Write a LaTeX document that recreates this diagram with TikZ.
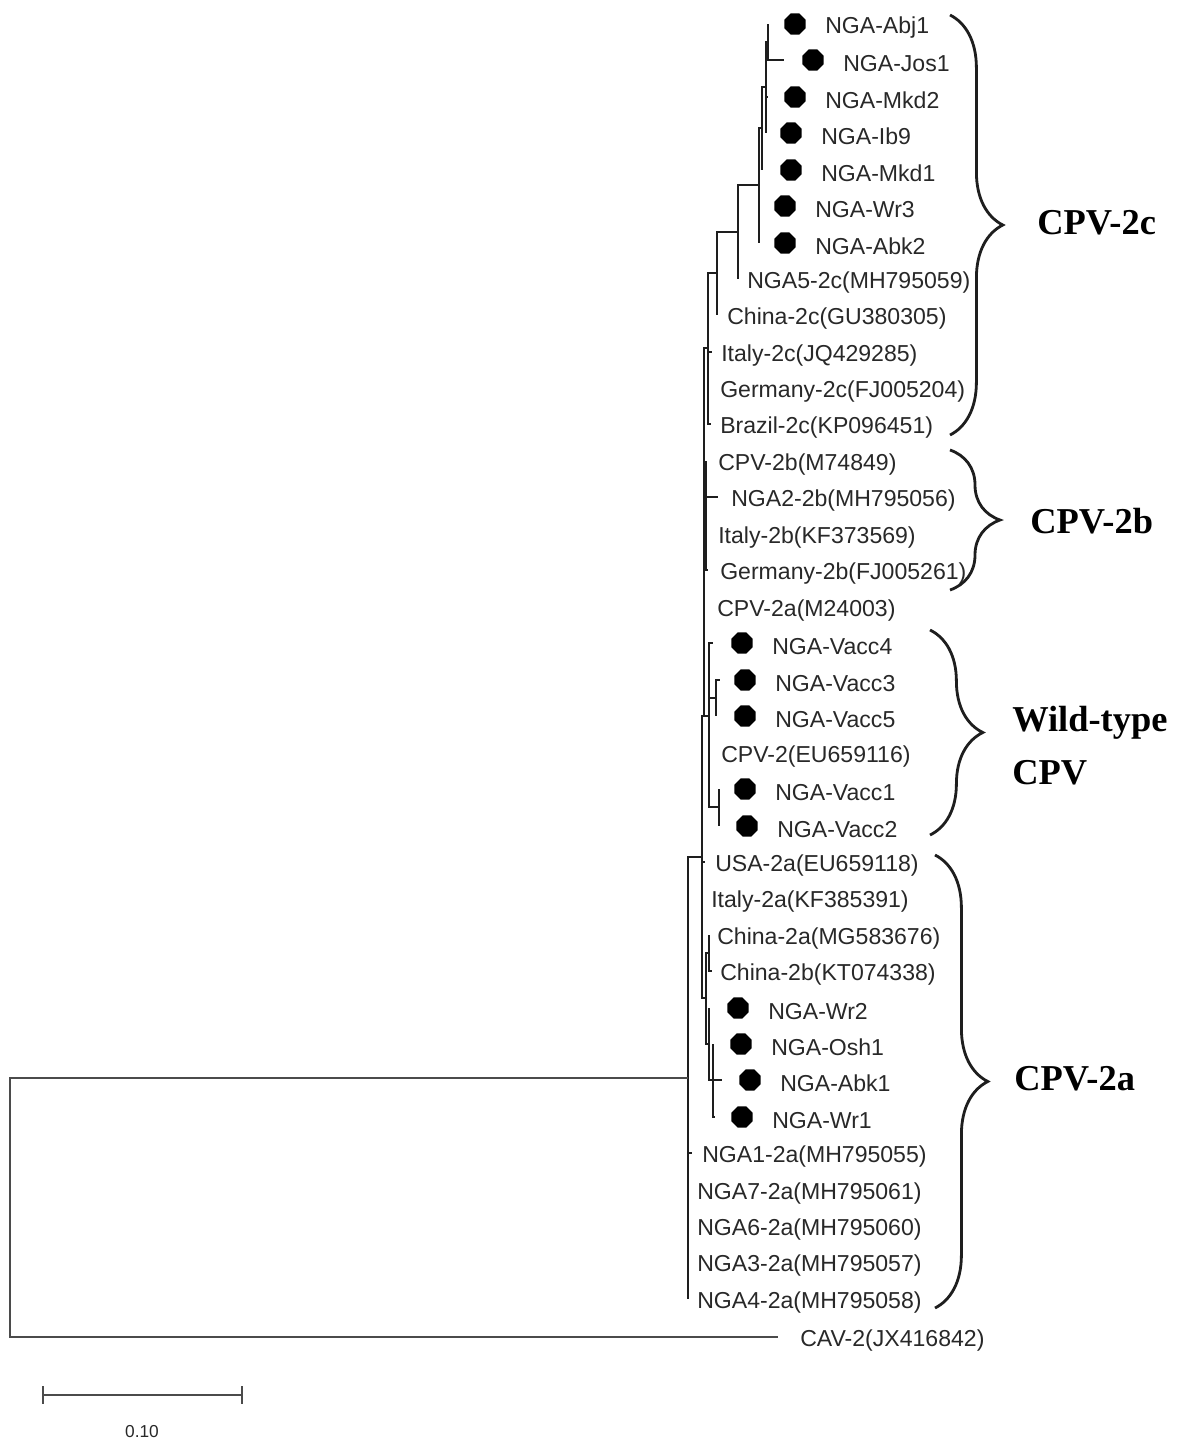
\documentclass[tikz,border=0pt]{standalone}
\usepackage{fontspec}
\setmainfont{Liberation Serif}
\setsansfont{Liberation Sans}
\usepackage{tikz}
\usetikzlibrary{
    positioning,
    shapes.geometric,
    decorations.pathreplacing
}
\definecolor{TreeGray}{RGB}{30,30,30}
\definecolor{LabelGray}{RGB}{40,40,40}
\definecolor{BarGray}{RGB}{75,75,75}
\newcommand{\leaffont}{\sffamily\fontsize{16.4}{19.6}\selectfont}
\newcommand{\cladefont}{\rmfamily\bfseries\fontsize{25.9}{37.6}\selectfont}

\begin{document}
\begin{tikzpicture}[
    x=0.025cm, y=-0.025cm,
    branch/.style={line width=1.25pt, TreeGray},
    leaf/.style={anchor=west, inner sep=0pt, yshift=-0.08cm, font=\leaffont, text=LabelGray},
    dot/.style={regular polygon, regular polygon sides=8, fill=black,
        minimum size=0.57cm, inner sep=0pt},
    clade/.style={decorate, decoration={brace, amplitude=#1},
        line width=2pt, TreeGray},
    cladename/.style={anchor=west, inner sep=0pt, font=\cladefont, align=left}
]
\useasboundingbox (0,0) rectangle (1184,1443);

% Internal nodes
\coordinate (n-a) at (768,42);
\coordinate (n-b) at (766,87);
\coordinate (n-c) at (762,128);
\coordinate (n-d) at (759,185);
\coordinate (n-e) at (738,232);
\coordinate (n-f) at (717,273);
\coordinate (n-g) at (708,348);
\coordinate (n-h) at (706,515);
\coordinate (n-q) at (704,716);
\coordinate (n-w) at (709,716);
\coordinate (n-v1) at (716,698);
\coordinate (n-v4) at (719,807);
\coordinate (n-p) at (702,857);
\coordinate (n-s) at (706,998);
\coordinate (n-s1) at (709,953);
\coordinate (n-s2) at (709,1044);
\coordinate (n-s3) at (713,1080);
\coordinate (n-r) at (688,1078);
\coordinate (n-root) at (10,1207);

% Tips
\coordinate (t-abj1) at (768,24);
\coordinate (t-jos1) at (784,60);
\coordinate (t-mkd2) at (768,97);
\coordinate (t-ib9) at (766,133);
\coordinate (t-mkd1) at (762,170);
\coordinate (t-wr3) at (759,206);
\coordinate (t-abk2) at (759,243);
\coordinate (t-nga5) at (738,279);
\coordinate (t-china2c) at (717,315);
\coordinate (t-italy2c) at (712,352);
\coordinate (t-germany2c) at (708,388);
\coordinate (t-brazil2c) at (711,424);
\coordinate (t-cpv2b) at (706,461);
\coordinate (t-nga2) at (718,497);
\coordinate (t-italy2b) at (706,534);
\coordinate (t-germany2b) at (708,570);
\coordinate (t-cpv2a) at (704,607);
\coordinate (t-vacc4) at (713,643);
\coordinate (t-vacc3) at (720,680);
\coordinate (t-vacc5) at (716,716);
\coordinate (t-cpv2) at (709,753);
\coordinate (t-vacc1) at (719,789);
\coordinate (t-vacc2) at (719,826);
\coordinate (t-usa2a) at (705,862);
\coordinate (t-italy2a) at (702,898);
\coordinate (t-china2a) at (709,935);
\coordinate (t-china2b) at (712,971);
\coordinate (t-wr2) at (709,1008);
\coordinate (t-osh1) at (713,1044);
\coordinate (t-abk1) at (722,1080);
\coordinate (t-wr1) at (715,1117);
\coordinate (t-nga1) at (692,1153);
\coordinate (t-nga7) at (688,1190);
\coordinate (t-nga6) at (688,1226);
\coordinate (t-nga3) at (688,1262);
\coordinate (t-nga4) at (688,1299);
\coordinate (t-cav) at (778,1337);

% Branches
\draw[branch] (n-a) |- (t-abj1) (n-a) |- (t-jos1);
\draw[branch] (n-b) |- (n-a) (n-b) |- (t-mkd2) (n-b) |- (t-ib9);
\draw[branch] (n-c) |- (n-b) (n-c) |- (t-mkd1);
\draw[branch] (n-d) |- (n-c) (n-d) |- (t-wr3) (n-d) |- (t-abk2);
\draw[branch] (n-e) |- (n-d) (n-e) |- (t-nga5);
\draw[branch] (n-f) |- (n-e) (n-f) |- (t-china2c);
\draw[branch] (n-g) |- (n-f) (n-g) |- (t-italy2c) (n-g) |- (t-germany2c) (n-g) |- (t-brazil2c);
\draw[branch] (n-h) |- (t-cpv2b) (n-h) |- (t-nga2) (n-h) |- (t-italy2b) (n-h) |- (t-germany2b);
\draw[branch] (n-q) |- (n-g) (n-q) |- (n-h) (n-q) |- (t-cpv2a) (n-q) -- (n-w);
\draw[branch] (n-v1) |- (t-vacc3) (n-v1) |- (t-vacc5);
\draw[branch] (n-v4) |- (t-vacc1) (n-v4) |- (t-vacc2);
\draw[branch] (n-w) |- (t-vacc4) (n-w) |- (n-v1) (n-w) |- (t-cpv2) (n-w) |- (n-v4);
\draw[branch] (n-s1) |- (t-china2a) (n-s1) |- (t-china2b);
\draw[branch] (n-s3) |- (t-osh1) (n-s3) |- (t-abk1) (n-s3) |- (t-wr1);
\draw[branch] (n-s2) |- (t-wr2) (n-s2) |- (n-s3);
\draw[branch] (n-s) |- (n-s1) (n-s) |- (n-s2);
\draw[branch] (n-p) |- (n-q) (n-p) |- (t-usa2a) (n-p) |- (t-italy2a) (n-p) |- (n-s);
\draw[branch] (n-r) |- (n-p) (n-r) |- (t-nga1) (n-r) |- (t-nga7)
    (n-r) |- (t-nga6) (n-r) |- (t-nga3) (n-r) |- (t-nga4);
\draw[branch, BarGray] (n-root) |- (n-r) (n-root) |- (t-cav);

% Nigerian isolates
\node[dot] (d-abj1) at (795,24) {};
\node[dot] (d-jos1) at (813,60) {};
\node[dot] (d-mkd2) at (795,97) {};
\node[dot] (d-ib9) at (791,133) {};
\node[dot] (d-mkd1) at (791,170) {};
\node[dot] (d-wr3) at (785,206) {};
\node[dot] (d-abk2) at (785,243) {};
\node[dot] (d-vacc4) at (742,643) {};
\node[dot] (d-vacc3) at (745,680) {};
\node[dot] (d-vacc5) at (745,716) {};
\node[dot] (d-vacc1) at (745,789) {};
\node[dot] (d-vacc2) at (747,826) {};
\node[dot] (d-wr2) at (738,1008) {};
\node[dot] (d-osh1) at (741,1044) {};
\node[dot] (d-abk1) at (750,1080) {};
\node[dot] (d-wr1) at (742,1117) {};

% Labels
\node[leaf] (abj1) at (825,24) {NGA-Abj1};
\node[leaf] (jos1) at (843,60) {NGA-Jos1};
\node[leaf] (mkd2) at (825,97) {NGA-Mkd2};
\node[leaf] (ib9) at (821,133) {NGA-Ib9};
\node[leaf] (mkd1) at (821,170) {NGA-Mkd1};
\node[leaf] (wr3) at (815,206) {NGA-Wr3};
\node[leaf] (abk2) at (815,243) {NGA-Abk2};
\node[leaf] (nga5) at (747,279) {NGA5-2c(MH795059)};
\node[leaf] (china2c) at (727,315) {China-2c(GU380305)};
\node[leaf] (italy2c) at (721,352) {Italy-2c(JQ429285)};
\node[leaf] (germany2c) at (720,388) {Germany-2c(FJ005204)};
\node[leaf] (brazil2c) at (720,424) {Brazil-2c(KP096451)};
\node[leaf] (cpv2b) at (718,461) {CPV-2b(M74849)};
\node[leaf] (nga2) at (731,497) {NGA2-2b(MH795056)};
\node[leaf] (italy2b) at (718,534) {Italy-2b(KF373569)};
\node[leaf] (germany2b) at (720,570) {Germany-2b(FJ005261)};
\node[leaf] (cpv2a) at (717,607) {CPV-2a(M24003)};
\node[leaf] (vacc4) at (772,643) {NGA-Vacc4};
\node[leaf] (vacc3) at (775,680) {NGA-Vacc3};
\node[leaf] (vacc5) at (775,716) {NGA-Vacc5};
\node[leaf] (cpv2) at (721,753) {CPV-2(EU659116)};
\node[leaf] (vacc1) at (775,789) {NGA-Vacc1};
\node[leaf] (vacc2) at (777,826) {NGA-Vacc2};
\node[leaf] (usa2a) at (715,862) {USA-2a(EU659118)};
\node[leaf] (italy2a) at (711,898) {Italy-2a(KF385391)};
\node[leaf] (china2a) at (717,935) {China-2a(MG583676)};
\node[leaf] (china2b) at (720,971) {China-2b(KT074338)};
\node[leaf] (wr2) at (768,1008) {NGA-Wr2};
\node[leaf] (osh1) at (771,1044) {NGA-Osh1};
\node[leaf] (abk1) at (780,1080) {NGA-Abk1};
\node[leaf] (wr1) at (772,1117) {NGA-Wr1};
\node[leaf] (nga1) at (702,1153) {NGA1-2a(MH795055)};
\node[leaf] (nga7) at (697,1190) {NGA7-2a(MH795061)};
\node[leaf] (nga6) at (697,1226) {NGA6-2a(MH795060)};
\node[leaf] (nga3) at (697,1262) {NGA3-2a(MH795057)};
\node[leaf] (nga4) at (697,1299) {NGA4-2a(MH795058)};
\node[leaf] (cav) at (800,1337) {CAV-2(JX416842)};

% Clades
\coordinate (b2c-top) at (950,15);
\coordinate (b2c-bot) at (950,435);
\coordinate (b2b-top) at (950,450);
\coordinate (b2b-bot) at (950,590);
\coordinate (bwt-top) at (930,630);
\coordinate (bwt-bot) at (930,835);
\coordinate (b2a-top) at (935,855);
\coordinate (b2a-bot) at (935,1308);
\draw[clade=1.32cm] (b2c-top) -- (b2c-bot);
\draw[clade=1.25cm] (b2b-top) -- (b2b-bot);
\draw[clade=1.32cm] (bwt-top) -- (bwt-bot);
\draw[clade=1.32cm] (b2a-top) -- (b2a-bot);
\node[cladename] (c2c) at (1037,223) {CPV-2c};
\node[cladename] (c2b) at (1030,521) {CPV-2b};
\node[cladename] (cwt) at (1012,746) {Wild-type\\CPV};
\node[cladename] (c2a) at (1014,1079) {CPV-2a};

% Scale bar
\coordinate (bar-l) at (43,1395);
\coordinate (bar-r) at (242,1395);
\draw[line width=1.1pt, BarGray] (bar-l) -- (bar-r)
    ([yshift=-0.22cm]bar-l) -- ([yshift=0.22cm]bar-l)
    ([yshift=-0.22cm]bar-r) -- ([yshift=0.22cm]bar-r);
\node[inner sep=0pt, text=LabelGray, font=\sffamily\fontsize{12.3}{14}\selectfont] (barlab) at (142,1432) {0.10};

\end{tikzpicture}
\end{document}
